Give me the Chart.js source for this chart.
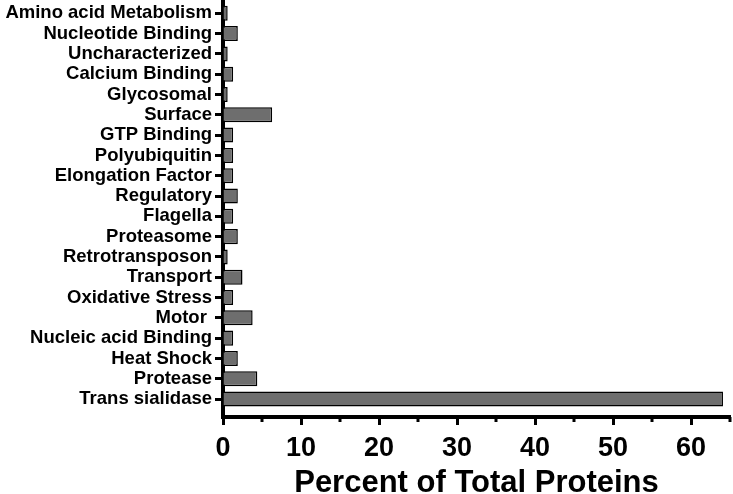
<!DOCTYPE html>
<html>
<head>
<meta charset="utf-8">
<script src="https://cdn.jsdelivr.net/npm/chart.js@4"></script>
<style>
  html, body { margin: 0; padding: 0; background: #fff; }
  #wrap { width: 733px; height: 494px; }
</style>
</head>
<body>
<div id="wrap"><canvas id="myChart"></canvas></div>
<script>
// Data
const categories = [
    'Amino acid Metabolism',
    'Nucleotide Binding',
    'Uncharacterized',
    'Calcium Binding',
    'Glycosomal',
    'Surface',
    'GTP Binding',
    'Polyubiquitin',
    'Elongation Factor',
    'Regulatory',
    'Flagella',
    'Proteasome',
    'Retrotransposon',
    'Transport',
    'Oxidative Stress',
    'Motor ',
    'Nucleic acid Binding',
    'Heat Shock',
    'Protease',
    'Trans sialidase'
];
const percents = [0.6, 1.9, 0.6, 1.3, 0.6, 6.3, 1.3, 1.3, 1.3, 1.9, 1.3, 1.9, 0.6, 2.5, 1.3, 3.8, 1.3, 1.9, 4.4, 64.1];
const xTicks = [0, 10, 20, 30, 40, 50, 60];
const xTitle = 'Percent of Total Proteins';

const font = "'Liberation Sans', Arial, Helvetica, sans-serif";

// short minor ticks at the odd fives
const minorTicks = {
    id: 'minorTicks',
    afterDraw(chart) {
        const x = chart.scales.x;
        const c = chart.ctx;
        const y0 = chart.chartArea.bottom;
        c.save();
        c.strokeStyle = '#000';
        c.lineWidth = 3;
        for (let v = 5; v <= 65; v += 10) {
            const px = x.getPixelForValue(v);
            c.beginPath();
            c.moveTo(px, y0);
            c.lineTo(px, y0 + 5);
            c.stroke();
        }
        c.restore();
    }
};

const ctx = document.getElementById('myChart').getContext('2d');

const myChart = new Chart(ctx, {
    type: 'bar',
    data: {
        labels: categories,
        datasets: [{
            data: percents,
            backgroundColor: '#6e6e6e',
            borderColor: '#000',
            borderWidth: 1.5,
            barPercentage: 0.74,
            categoryPercentage: 1
        }]
    },
    options: {
        indexAxis: 'y',
        responsive: true,
        maintainAspectRatio: false,
        animation: false,
        layout: { padding: 0 },
        plugins: {
            legend: { display: false },
            tooltip: { enabled: false }
        },
        scales: {
            x: {
                type: 'linear',
                min: 0,
                max: 65,
                afterFit: s => { s.height = 77; s.paddingRight = 3; },
                border: { color: '#000', width: 4 },
                grid: {
                    drawOnChartArea: false,
                    tickLength: 8,
                    tickWidth: 3,
                    tickColor: c => (xTicks.includes(c.tick.value) ? '#000' : 'rgba(0,0,0,0)')
                },
                ticks: {
                    stepSize: 5,
                    autoSkip: false,
                    maxRotation: 0,
                    padding: 7,
                    color: '#000',
                    font: { family: font, size: 27, weight: 'bold' },
                    callback: v => (xTicks.includes(v) ? String(v) : '')
                },
                title: {
                    display: true,
                    text: xTitle,
                    color: '#000',
                    padding: { top: 0, bottom: -5 },
                    font: { family: font, size: 31, weight: 'bold', lineHeight: 1 }
                }
            },
            y: {
                afterFit: s => { s.width = 223; s.paddingTop = 0; },
                // keep a little gap between the last bar and the x axis
                afterBuildTicks: s => { s._startValue -= 0.155; s._valueRange += 0.54; },
                border: { color: '#000', width: 4 },
                grid: {
                    offset: false,
                    drawOnChartArea: false,
                    tickLength: 8,
                    tickWidth: 3,
                    tickColor: '#000'
                },
                ticks: {
                    autoSkip: false,
                    padding: 3,
                    color: '#000',
                    font: { family: font, size: 18.5, weight: 'bold' }
                }
            }
        }
    },
    plugins: [minorTicks]
});
</script>
</body>
</html>
